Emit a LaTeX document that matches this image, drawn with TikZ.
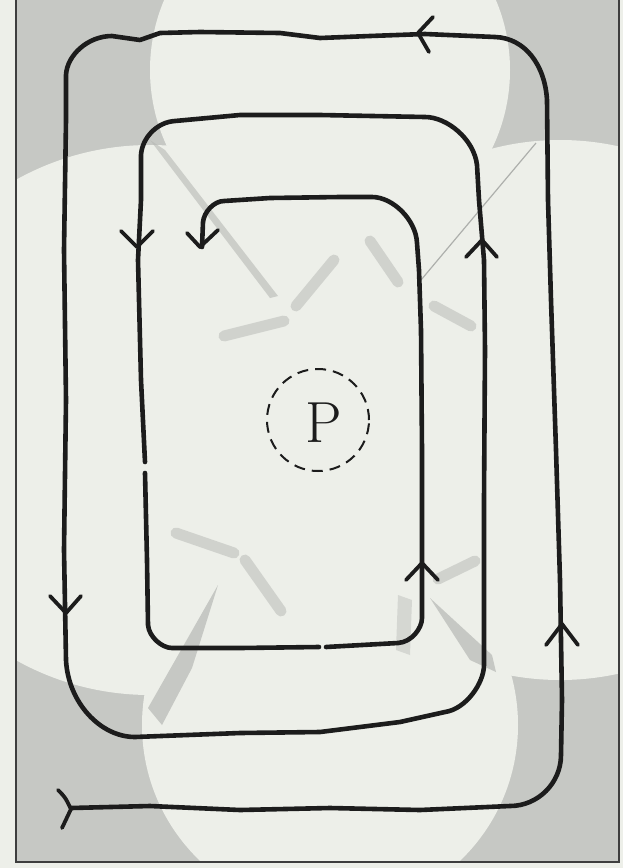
\documentclass[tikz,border=0pt]{standalone}
\definecolor{paper}{HTML}{EDEFE9}
\definecolor{ground}{HTML}{C6C8C4}
\definecolor{ink}{HTML}{1C1C1C}
\begin{document}
\begin{tikzpicture}[x=1pt,y=-1pt,
  spiral/.style={draw=ink, line width=4.6pt, line cap=round, line join=round},
  barb/.style={draw=ink, line width=3.8pt, line cap=round, line join=round},
  framestroke/.style={draw=ink!85, line width=1.6pt, line cap=round},
  disc/.style={fill=paper},
  wedge/.style={fill=ground},
  smudge/.style={draw=ground!88!black, line width=11pt, line cap=round, opacity=0.45},
  streak/.style={draw=ground!80!black, line width=1.2pt, opacity=0.8},
  ring/.style={circle, draw=ink, line width=2pt, dash pattern=on 11pt off 7pt, minimum size=102pt, inner sep=0pt},
  letter/.style={font=\fontsize{58}{58}\selectfont, text=ink, inner sep=0pt}
]
\useasboundingbox (0,0) rectangle (623,868);
\fill[paper] (0,0) rectangle (623,868);
% background: grey ground with light discs
\begin{scope}
  \clip (16,0) rectangle (619,862);
  \fill[ground] (16,0) rectangle (619,862);
  \fill[disc] (330,70) circle[radius=180pt];
  \fill[disc] (150,420) circle[radius=275pt];
  \fill[disc] (560,410) circle[radius=270pt];
  \fill[disc] (330,725) circle[radius=188pt];
  \fill[disc] (310,420) circle[radius=230pt];
  % grey wedges between discs
  \fill[wedge] (148,708) -- (218,585) -- (192,668) -- (162,725) -- cycle;
  \fill[wedge] (430,598) -- (492,655) -- (496,672) -- (470,660) -- cycle;
  \fill[wedge, opacity=0.6] (398,595) -- (412,600) -- (410,655) -- (396,650) -- cycle;
  % shadow streaks
  \fill[ground!92!black, opacity=0.6] (150,140) -- (165,150) -- (278,296) -- (270,298) -- cycle;
  \draw[streak] (536,143) -- (421,280);
  % faint smudges
  \draw[smudge] (224,336) -- (284,321);
  \draw[smudge] (296,306) -- (334,260);
  \draw[smudge] (370,241) -- (398,282);
  \draw[smudge] (434,306) -- (471,326);
  \draw[smudge] (176,533) -- (234,553);
  \draw[smudge] (245,560) -- (281,611);
  \draw[smudge] (438,579) -- (475,561);
\end{scope}
% frame
\draw[framestroke] (16,0) -- (16,862) -- (619,862) -- (619,0);
% the spiral
\draw[spiral] (71,808) -- (150,806) -- (240,810) -- (330,808) -- (420,810) -- (510,806)
  .. controls (538,806) and (561,783) .. (561,755)
  -- (562,700) -- (560,580) -- (556,450) -- (551,300) -- (548,200) -- (547,100)
  .. controls (545,65) and (525,38) .. (495,37)
  -- (425,34) -- (370,36) -- (320,38) -- (280,33) -- (200,32) -- (160,33) -- (140,40) -- (112,36)
  .. controls (88,36) and (67,55) .. (66,75)
  -- (66,120) -- (64,250) -- (66,400) -- (64,550) -- (66,660)
  .. controls (68,702) and (100,737) .. (135,737)
  -- (240,733) -- (320,732) -- (400,722) -- (445,712)
  .. controls (466,709) and (484,683) .. (484,665)
  -- (484,500) -- (485,350) -- (484,260) -- (479,200) -- (477,165)
  .. controls (474,139) and (447,117) .. (425,117)
  -- (320,115) -- (240,115) -- (175,121)
  .. controls (157,122) and (142,138) .. (141,155)
  -- (141,200) -- (138,260) -- (141,380) -- (145,462)
  (145,473) -- (147,560) -- (148,625)
  .. controls (149,637) and (162,648) .. (172,648)
  -- (240,648) -- (319,647)
  (326,647) -- (398,643)
  .. controls (412,642) and (422,628) .. (422,618)
  -- (422,580) -- (422,450) -- (421,330) -- (419,270) -- (417,243)
  .. controls (416,220) and (393,197) .. (372,197)
  -- (340,197) -- (270,198) -- (224,201)
  .. controls (214,201) and (204,212) .. (203,222)
  -- (202,247);
% tail at the start
\draw[barb] (58,790) .. controls (65,797) .. (71,809) .. controls (66,818) .. (62,828);
% arrow heads along the path
\draw[barb] (546,645) -- (562,624) -- (578,645);
\draw[barb] (433,17) -- (418,33) -- (429,52);
\draw[barb] (50,596) -- (66,613) -- (81,596);
\draw[barb] (466,257) -- (482,240) -- (497,257);
\draw[barb] (121,231) -- (137,247) -- (153,231);
\draw[barb] (406,580) -- (422,563) -- (438,580);
\draw[barb] (187,233) -- (200,247) -- (218,230);
% the marked point
\node[ring] (ring) at (318,420) {};
\node[letter] (p) at (324,423) {P};
\end{tikzpicture}
\end{document}
